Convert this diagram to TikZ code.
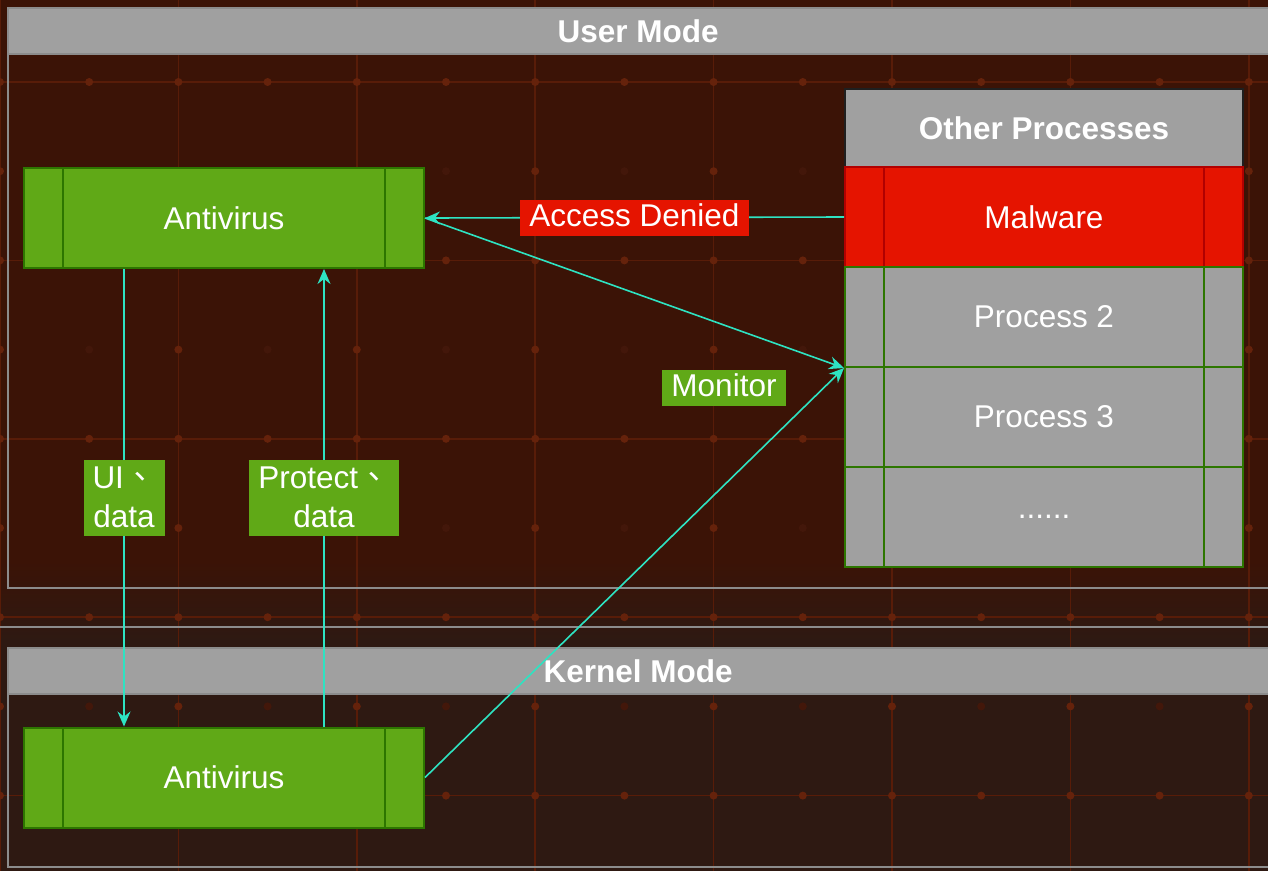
\documentclass[tikz,border=0pt]{standalone}
\usepackage{fontspec}
\setmainfont{Liberation Sans}
\newfontfamily\cjk{Noto Sans CJK TC}
\usetikzlibrary{arrows.meta}

\definecolor{bgtop}{HTML}{3B1306}
\definecolor{bgbot}{HTML}{2E1912}
\definecolor{gridln}{HTML}{581C08}
\definecolor{griddot}{HTML}{65220B}
\definecolor{griddim}{HTML}{43170A}
\definecolor{lanegrey}{HTML}{A0A0A0}
\definecolor{laneline}{HTML}{8C8C8C}
\definecolor{avfill}{HTML}{60A917}
\definecolor{avline}{HTML}{2D7600}
\definecolor{malfill}{HTML}{E51400}
\definecolor{malline}{HTML}{B20000}
\definecolor{wire}{HTML}{2EE3C2}

\newcommand\txtfont{\fontsize{31.5}{39}\selectfont}
\newcommand\hdrfont{\fontsize{31.5}{39}\selectfont\bfseries}

\tikzset{
  sidebars/.style={path picture={\draw[line width=2pt,#1]
      ([xshift=39pt]path picture bounding box.north west) -- ([xshift=39pt]path picture bounding box.south west)
      ([xshift=-39pt]path picture bounding box.north east) -- ([xshift=-39pt]path picture bounding box.south east);}},
  txt/.style={text=white,font=\txtfont},
  avbox/.style={rectangle,fill=avfill,draw=avline,line width=2pt,minimum width=400pt,
    minimum height=100pt,inner sep=0pt,sidebars=avline,txt},
  row/.style={rectangle,line width=2pt,minimum width=398pt,minimum height=100pt,inner sep=0pt,txt},
  malrow/.style={row,fill=malfill,draw=malline,sidebars=malline},
  procrow/.style={row,fill=lanegrey,draw=avline,sidebars=avline},
  lanehead/.style={rectangle,fill=lanegrey,minimum width=1260pt,minimum height=46pt,
    inner sep=0pt,anchor=north west,text=white,font=\hdrfont},
  laneframe/.style={draw=laneline,line width=2pt},
  conn/.style={draw=wire,line width=1.6pt,-{Stealth[length=15pt,width=13pt,inset=5pt]}},
  wiretag/.style={fill=#1,inner xsep=9pt,inner ysep=7.5pt,txt,align=center},
  flattag/.style={fill=#1,inner xsep=9pt,inner ysep=3.5pt,text height=23pt,text depth=6pt,txt},
}

\begin{document}
\begin{tikzpicture}[x=1pt,y=-1pt]
\useasboundingbox (0,0) rectangle (1268,871);
\clip (0,0) rectangle (1268,871);

% background
\fill[bgtop] (0,0) rectangle (1268,561);
\shade[top color=bgtop,bottom color=bgbot] (0,560) rectangle (1268,641);
\fill[bgbot] (0,640) rectangle (1268,871);

% grid
\foreach \i in {0,...,7}
  \draw[gridln,line width=1.5pt] (\i*178.4,0) -- (\i*178.4,871);
\foreach \j in {0,...,4}
  \draw[gridln,line width=1.5pt] (0,82+\j*178.4) -- (1268,82+\j*178.4);
\foreach \i in {0,...,14}{
  \foreach \j in {-1,...,9}{
    \pgfmathtruncatemacro\k{mod(\i,2)*mod(\j+2,2)}
    \ifnum\k=1
      \fill[griddim] (\i*89.2,82+\j*89.2) circle (4pt);
    \else
      \fill[griddot] (\i*89.2,82+\j*89.2) circle (4pt);
    \fi
  }
}

% user mode lane
\node[lanehead] (userhdr) at (8,8) {User Mode};
\draw[laneframe] (8,8) rectangle (1290,588);
\draw[laneframe] (8,54) -- (1290,54);

% kernel mode lane
\draw[laneframe] (-5,627) -- (1290,627);
\node[lanehead] (kernhdr) at (8,648) {Kernel Mode};
\draw[laneframe] (8,648) rectangle (1290,867);
\draw[laneframe] (8,694) -- (1290,694);

% antivirus components
\node[avbox] (avtop) at (224,218) {Antivirus};
\node[avbox] (avk) at (224,777.5) {Antivirus};

% other processes
\node[rectangle,fill=lanegrey,draw=black!88,line width=2pt,minimum width=398pt,
  minimum height=78pt,inner sep=0pt,text=white,font=\hdrfont] (oph) at (1044,128) {Other Processes};
\node[malrow] (mal) at (1044,217) {Malware};
\node[procrow] (p2) at (1044,317) {Process 2};
\node[procrow] (p3) at (1044,417) {Process 3};
\node[procrow] (pn) at (1044,517) {......};

% connectors
\draw[conn] (mal.west) -- node[flattag=malfill] (denied) {Access Denied} (avtop.east);
\draw[conn] (avtop.east) -- (p2.south west);
\draw[conn] (avk.east) -- (p2.south west);
\node[flattag=avfill] (monitor) at (724,388) {Monitor};
\draw[conn] ([xshift=-100pt]avtop.south) --
  node[wiretag=avfill] (uitag) {UI{\cjk 、}\\data} ([xshift=-100pt]avk.north);
\draw[conn] ([xshift=100pt]avk.north) --
  node[wiretag=avfill] (protag) {Protect{\cjk 、}\\data} ([xshift=100pt]avtop.south);
\end{tikzpicture}
\end{document}
